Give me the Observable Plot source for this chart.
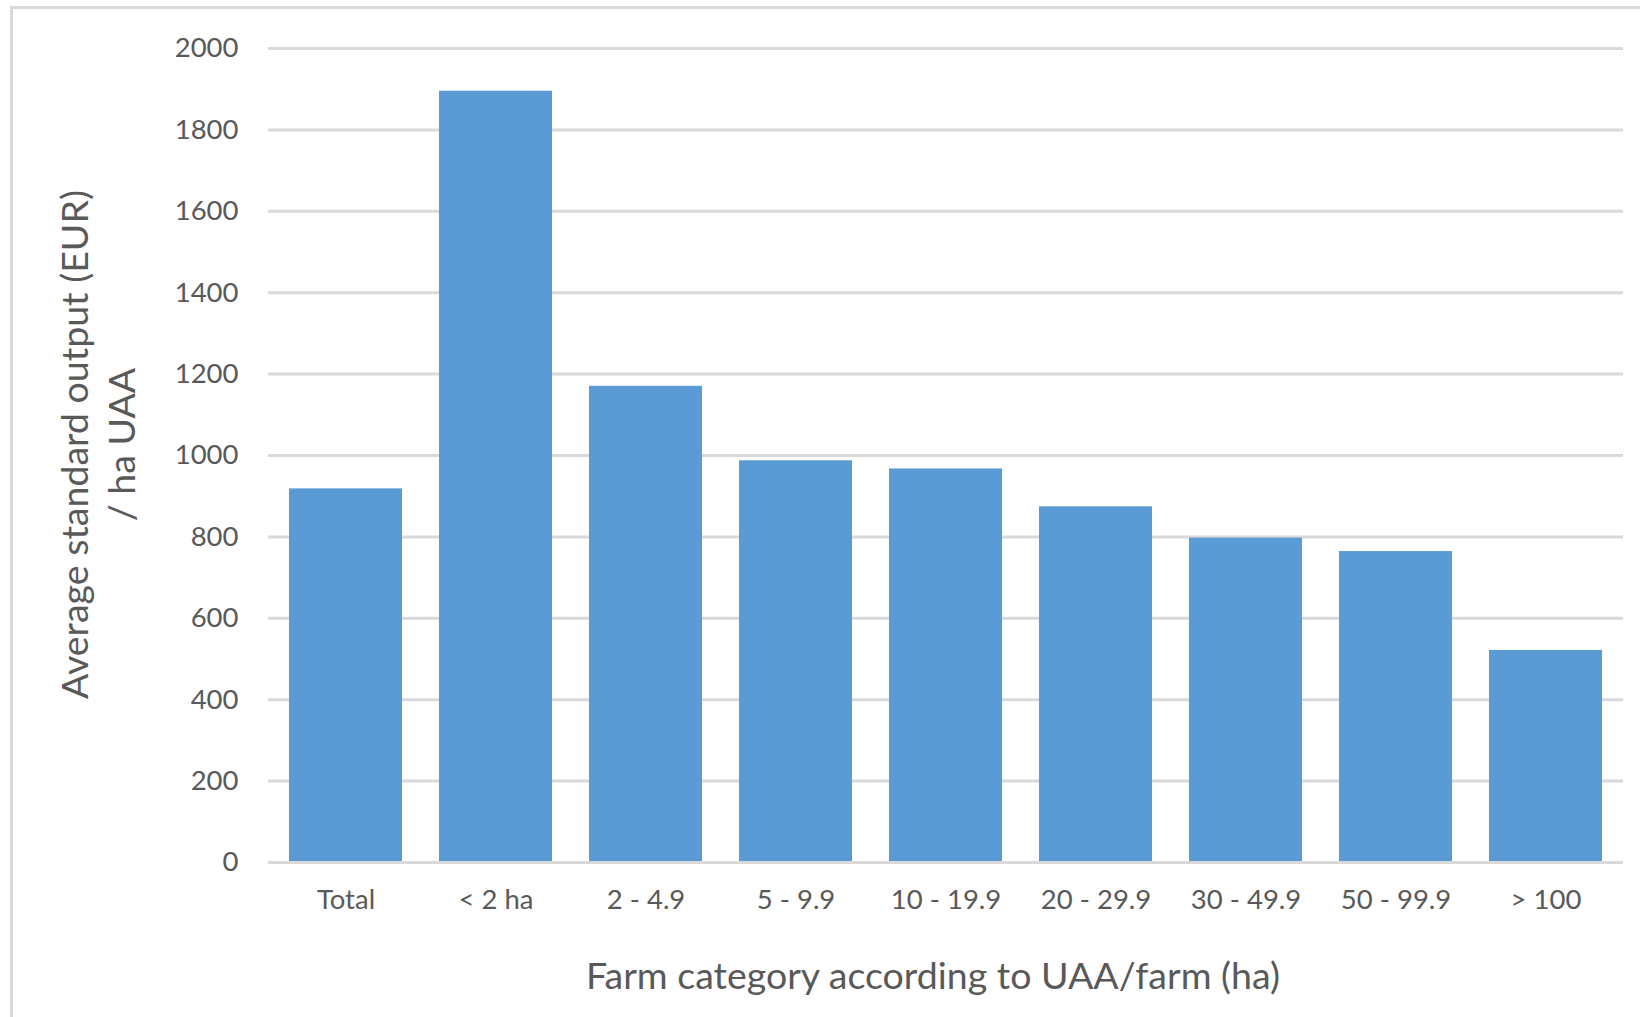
<!DOCTYPE html>
<html>
<head>
<meta charset="utf-8">
<script src="https://cdn.jsdelivr.net/npm/d3@7"></script>
<script src="https://cdn.jsdelivr.net/npm/@observablehq/plot@0.6"></script>
<style>
  html, body { margin: 0; padding: 0; background: #fff; }
  #wrap { position: relative; width: 1640px; height: 1017px; overflow: hidden; }
  #frame { position: absolute; left: 10px; top: 6px; width: 1700px; height: 1100px; border: 3px solid #d9d9d9; box-sizing: border-box; }
  #chart { position: absolute; left: 0; top: 0; }
</style>
</head>
<body>
<div id="wrap"><div id="frame"></div><div id="chart"></div></div>
<script>
const categories = ["Total", "< 2 ha", "2 - 4.9", "5 - 9.9", "10 - 19.9", "20 - 29.9", "30 - 49.9", "50 - 99.9", "> 100"];
const values = [918, 1895, 1170, 987, 967, 874, 797, 764, 521];
const yTicks = [0, 200, 400, 600, 800, 1000, 1200, 1400, 1600, 1800, 2000];
const xTitle = "Farm category according to UAA/farm (ha)";
const yTitle = "Average standard output (EUR)\n/ ha UAA";

const data = categories.map((c, i) => ({category: c, value: values[i]}));
const textColor = "#595959";
const font = "Lato, 'Open Sans', sans-serif";

const chart = Plot.plot({
  width: 1640,
  height: 1017,
  marginLeft: 268,
  marginRight: 17,
  marginTop: 48,
  marginBottom: 155,
  style: {fontFamily: font, color: textColor, background: "transparent"},
  x: {domain: categories, paddingInner: 0.25, paddingOuter: 0.125, label: null},
  y: {domain: [0, 2000], label: null},
  marks: [
    Plot.gridY(yTicks, {stroke: "#d9d9d9", strokeOpacity: 1, strokeWidth: 3}),
    Plot.barY(data, {x: "category", y: "value", fill: "#5b9bd5"}),
    Plot.ruleY([0], {stroke: "#d9d9d9", strokeWidth: 3}),
    Plot.axisY(yTicks, {tickSize: 0, tickPadding: 30, fontSize: 27.5, fill: textColor, label: null, tickFormat: d => String(d)}),
    Plot.axisX({tickSize: 0, tickPadding: 27, fontSize: 27.5, fill: textColor, label: null}),
    Plot.text([xTitle], {frameAnchor: "bottom", dx: -13, dy: 114, fontSize: 37.5, fill: textColor, lineAnchor: "middle"}),
    Plot.text([yTitle], {frameAnchor: "left", dx: -172, dy: -11, rotate: -90, textAnchor: "middle", fontSize: 37.5, lineHeight: 1.25, fill: textColor, lineAnchor: "middle"})
  ]
});
document.getElementById("chart").appendChild(chart);
</script>
</body>
</html>
